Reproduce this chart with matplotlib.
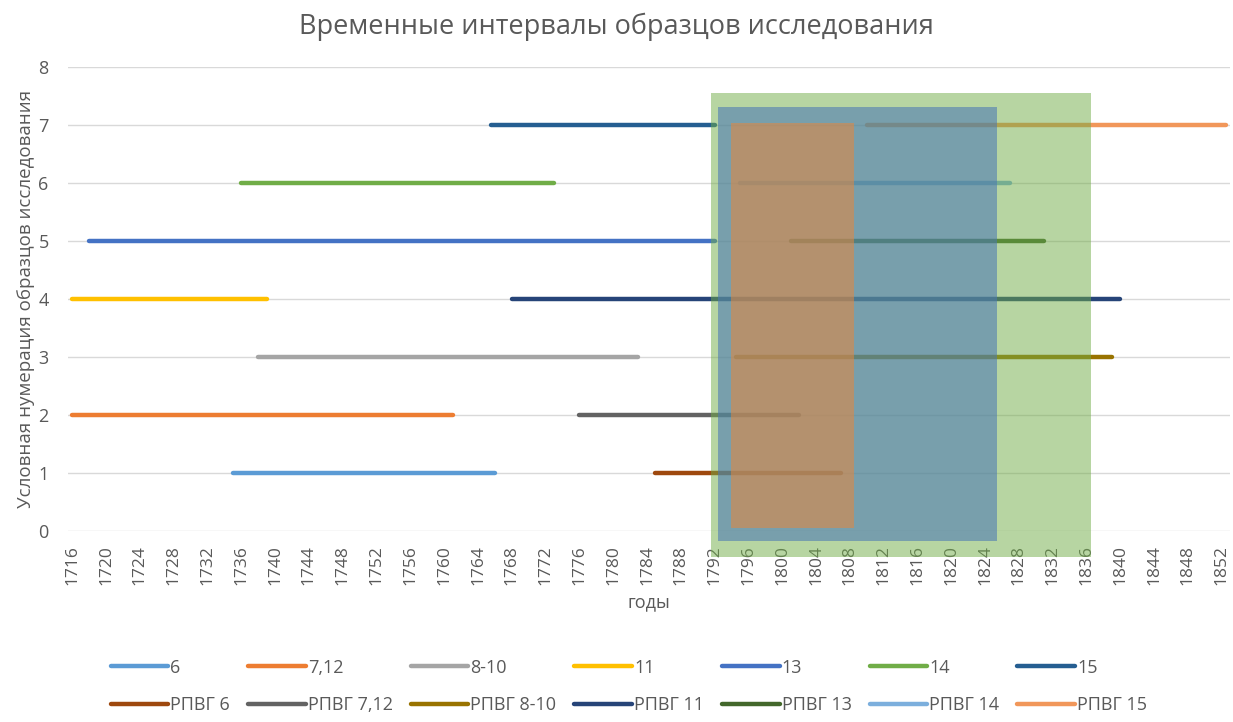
"""Timeline of sample intervals with overlapping reference periods."""

import matplotlib.pyplot as plt
from matplotlib.patches import Rectangle

plt.rcParams['font.family'] = ['Open Sans', 'DejaVu Sans']

# series: label, row number, start year, end year
labels = ['6', '7,12', '8-10', '11', '13', '14', '15',
          'РПВГ 6', 'РПВГ 7,12', 'РПВГ 8-10', 'РПВГ 11', 'РПВГ 13', 'РПВГ 14', 'РПВГ 15']
rows = [1, 2, 3, 4, 5, 6, 7,
        1, 2, 3, 4, 5, 6, 7]
starts = [1735, 1716, 1738, 1716, 1718, 1736, 1765.5,
          1785, 1776, 1794.5, 1768, 1801, 1795, 1810]
ends = [1766, 1761, 1783, 1739, 1792, 1773, 1792,
        1807, 1802, 1839, 1840, 1831, 1827, 1852.5]
colors = ['#5B9BD5', '#ED7D31', '#A5A5A5', '#FFC000', '#4472C4', '#70AD47', '#255E91',
          '#9E480E', '#636363', '#997300', '#264478', '#43682B', '#7CAFDD', '#F1975A']

# shaded periods: (year from, year to, low, high)
span_years = [(1791.6, 1836.6), (1792.4, 1825.4), (1794.0, 1808.5)]
span_levels = [(-0.45, 7.55), (-0.17, 7.31), (0.05, 7.03)]
span_colors = ['#70AD47', '#4B78B4', '#E6873C']
span_alpha = [0.5, 0.58, 0.55]

x_ticks = list(range(1716, 1853, 4))

fig = plt.figure(figsize=(12.33, 7.22), dpi=100)
ax = fig.add_axes([0.0552, 0.2645, 0.9424, 0.6427])

handles = []
for lab, r, s, e, c in zip(labels, rows, starts, ends, colors):
    h, = ax.plot([s, e], [r, r], color=c, lw=3.2, solid_capstyle='round',
                 label=lab, zorder=2)
    handles.append(h)

for (x0, x1), (y0, y1), c, a in zip(span_years, span_levels, span_colors, span_alpha):
    ax.add_patch(Rectangle((x0, y0), x1 - x0, y1 - y0, facecolor=c, alpha=a,
                           edgecolor='none', clip_on=False, zorder=3))

ax.set_xlim(1715.5, 1853)
ax.set_ylim(0, 8)
ax.set_xticks(x_ticks)
ax.set_xticklabels([str(t) for t in x_ticks], rotation=90)
ax.set_yticks(range(0, 9))
ax.tick_params(length=0, colors='#595959')
ax.tick_params(axis='y', pad=14, labelsize=13)
ax.tick_params(axis='x', pad=10, labelsize=12.5)
ax.grid(axis='y', color='#D9D9D9', lw=1)
for sp in ax.spines.values():
    sp.set_visible(False)

ax.set_xlabel('годы', fontsize=13, color='#595959', labelpad=6)
ax.set_ylabel('Условная нумерация образцов исследования', fontsize=13.5,
              color='#595959', labelpad=2)
fig.suptitle('Временные интервалы образцов исследования', fontsize=19.5,
             color='#595959', y=0.983)

# legend: first row plain series, second row РПВГ series
order = []
for i in range(7):
    order += [handles[i], handles[i + 7]]
fig.legend(handles=order, labels=[h.get_label() for h in order], ncol=7,
           loc='lower center', bbox_to_anchor=(0.51, -0.012), frameon=False,
           fontsize=13, handlelength=3.2, handletextpad=0.1, columnspacing=1.0,
           labelspacing=1.1, labelcolor='#595959')

fig.savefig('out.png', dpi=100)
plt.close(fig)
